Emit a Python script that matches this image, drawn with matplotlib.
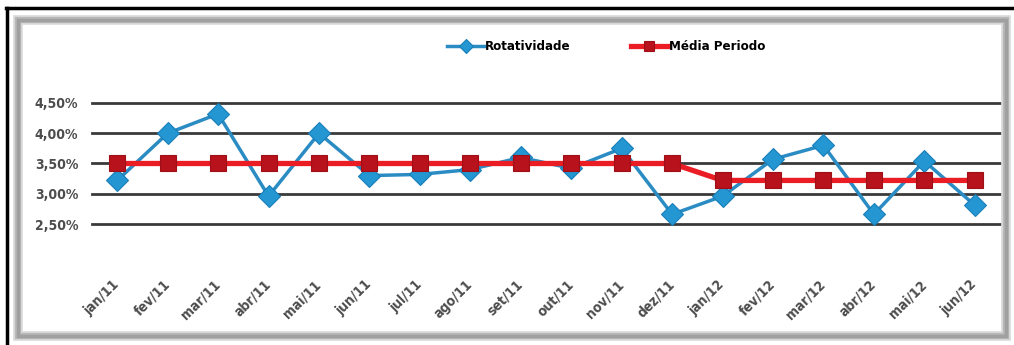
import matplotlib
matplotlib.use("Agg")
import matplotlib.pyplot as plt
from matplotlib.patches import Rectangle
from matplotlib.lines import Line2D
from matplotlib.ticker import FuncFormatter

months = ["jan/11", "fev/11", "mar/11", "abr/11", "mai/11", "jun/11", "jul/11",
          "ago/11", "set/11", "out/11", "nov/11", "dez/11", "jan/12", "fev/12",
          "mar/12", "abr/12", "mai/12", "jun/12"]
rotatividade = [3.22, 4.00, 4.32, 2.96, 4.00, 3.30, 3.32, 3.40, 3.60, 3.42,
                3.75, 2.66, 2.96, 3.57, 3.80, 2.66, 3.54, 2.81]
media_periodo = [3.50] * 12 + [3.22] * 6
y_ticks = [2.50, 3.00, 3.50, 4.00, 4.50]

plt.rcParams['font.family'] = ['DejaVu Sans Condensed', 'Liberation Sans Narrow', 'DejaVu Sans']
plt.rcParams['font.stretch'] = 'condensed'

W, H = 1014, 345
fig = plt.figure(figsize=(W / 100, H / 100), dpi=100)
fig.patch.set_facecolor("white")

# outer black border (top and left)
fig.add_artist(Line2D([6 / W, 1], [1 - 8 / H, 1 - 8 / H], color="black", lw=2.5,
                      transform=fig.transFigure))
fig.add_artist(Line2D([7 / W, 7 / W], [0, 1 - 8 / H], color="black", lw=2.5,
                      transform=fig.transFigure))
# inner shadowed frame
for lw, c in [(7, "#dcdcdc"), (4.5, "#b8b8b8"), (2.5, "#a0a0a0")]:
    fig.add_artist(Rectangle((18 / W, 1 - 336 / H), (1006 - 18) / W, (336 - 20) / H,
                             fill=False, edgecolor=c, lw=lw, transform=fig.transFigure))

ax = fig.add_axes([92 / W, 1 - 224 / H, (1000 - 92) / W, (224 - 103) / H])
ax.set_facecolor("none")
x = list(range(len(months)))
ax.set_xlim(-0.5, len(months) - 0.5)
ax.set_ylim(2.5, 4.5)

for v in y_ticks:
    ax.axhline(v, color="#3a3a3a", lw=2.0, zorder=1, clip_on=False)

ax.plot(x, rotatividade, color="#2b8cc4", lw=2.5, marker="D", markersize=11.5,
        markerfacecolor="#2496d2", markeredgecolor="#1a7fb8", markeredgewidth=0.8,
        zorder=3, clip_on=False, label="Rotatividade")
ax.plot(x, media_periodo, color="#ea1c24", lw=3.8, marker="s", markersize=12,
        markerfacecolor="#b8121c", markeredgecolor="#9e1018", markeredgewidth=0.8,
        zorder=4, clip_on=False, label="Média Periodo")

for s in ax.spines.values():
    s.set_visible(False)

ax.set_yticks(y_ticks)
ax.yaxis.set_major_formatter(FuncFormatter(lambda v, p: f"{v:.2f}%".replace(".", ",")))
ax.tick_params(axis="y", length=0, pad=10, labelsize=10, labelcolor="#4d4d4d")
ax.set_xticks(x)
ax.set_xticklabels(months, rotation=45, ha="right", va="center",
                   rotation_mode="anchor", fontsize=10, color="#4d4d4d")
ax.tick_params(axis="x", length=0, pad=42)
for lbl in ax.get_yticklabels() + ax.get_xticklabels():
    lbl.set_fontweight("bold")

leg = ax.legend(loc="center", bbox_to_anchor=(606 / W, 1 - 47 / H),
                bbox_transform=fig.transFigure, ncol=2, frameon=False,
                fontsize=9.5, handlelength=2.8, columnspacing=4.6,
                handletextpad=0.05, markerscale=0.6)
for t in leg.get_texts():
    t.set_fontweight("bold")

fig.savefig("out.png", dpi=100, facecolor="white")
